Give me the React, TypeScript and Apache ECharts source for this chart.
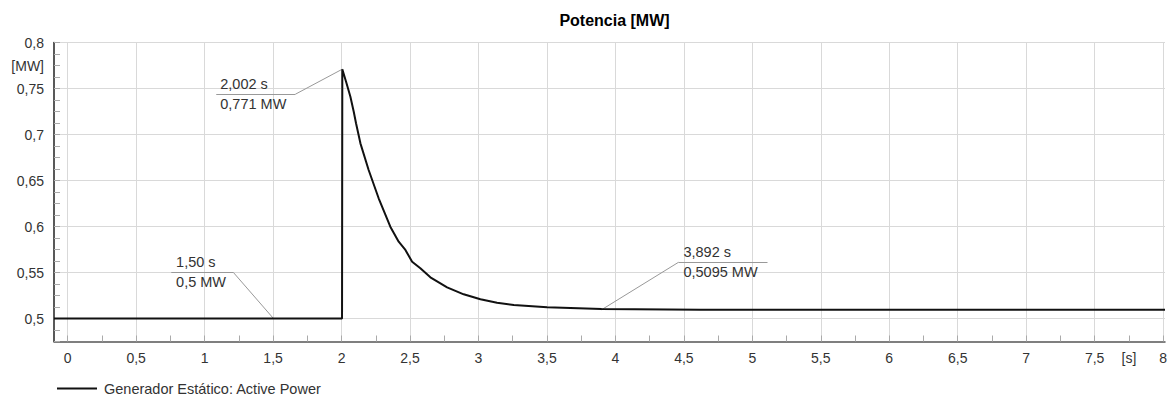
import React, { useEffect, useRef } from "react";
import * as echarts from "echarts";

const seriesName = "Generador Estático: Active Power";
const timeS = [-0.1, 2.0, 2.002, 2.03, 2.061, 2.085, 2.102, 2.134, 2.194, 2.267, 2.352, 2.413, 2.462, 2.511, 2.571, 2.644, 2.766, 2.887, 3.009, 3.13, 3.252, 3.495, 3.892, 4.613, 5.5, 6.5, 8.0];
const powerMW = [0.5, 0.5, 0.771, 0.757, 0.7411, 0.725, 0.7122, 0.6904, 0.6614, 0.6307, 0.5998, 0.5835, 0.5745, 0.5617, 0.5546, 0.5448, 0.5339, 0.5263, 0.5209, 0.5172, 0.5147, 0.5122, 0.5103, 0.5096, 0.5095, 0.5095, 0.5095];

const annotTimes = [1.5, 2.002, 3.892];
const annotValues = [0.5, 0.771, 0.5095];
const annotTop = ["1,50 s", "2,002 s", "3,892 s"];
const annotBottom = ["0,5 MW", "0,771 MW", "0,5095 MW"];
// callout layout: [lineStartT, lineEndT, lineV, elbowT, textT]
const annotLayout = [
  [0.755, 1.207, 0.5502, 1.207, 0.79],
  [1.083, 1.659, 0.7437, 1.659, 1.112],
  [4.453, 5.102, 0.5611, 4.453, 4.489],
];

const FONT = "'Liberation Sans', Arial, sans-serif";
const near = (a: number, b: number) => Math.abs(a - b) < 1e-6;
const fmt = (v: number) => String(Number(v.toFixed(4))).replace(".", ",");

export default function App() {
  const ref = useRef<HTMLDivElement>(null);
  useEffect(() => {
    if (!ref.current) return;
    const chart = echarts.init(ref.current, null, { renderer: "svg" });
    const gTop = 42.5;
    const gBottom = 396 - 341.5;
    const gLeft = 54;
    const gRight = 1170 - 1165;
    const yMin = 0.475, yMax = 0.8;
    const xMin = -0.1, xMax = 8;
    const plotW = 1170 - gLeft - gRight;
    const plotH = 396 - gTop - gBottom;
    const zeroX = gLeft + ((0 - xMin) / (xMax - xMin)) * plotW;
    const halfY = gTop + ((yMax - 0.5) / (yMax - yMin)) * plotH;

    const markLineData: any[] = [];
    const markPointData: any[] = [];
    annotLayout.forEach((l, i) => {
      markLineData.push([{ coord: [l[0], l[2]] }, { coord: [l[1], l[2]] }]);
      markLineData.push([{ coord: [l[3], l[2]] }, { coord: [annotTimes[i], annotValues[i]] }]);
      markPointData.push({ coord: [l[4], l[2]], value: annotTop[i] + "\n" + annotBottom[i] });
    });

    chart.setOption({
      animation: false,
      backgroundColor: "#fff",
      title: {
        text: "Potencia [MW]",
        left: (gLeft + 1170 - gRight) / 2,
        textAlign: "center",
        top: 7,
        textStyle: { fontFamily: FONT, fontSize: 16, fontWeight: "bold", color: "#000" },
      },
      legend: {
        left: 52,
        top: 376,
        icon: "rect",
        itemWidth: 40,
        itemHeight: 2,
        textStyle: { fontFamily: FONT, fontSize: 14.5, color: "#333", padding: [0, 0, 0, 2] },
        data: [seriesName],
      },
      grid: [
        { left: gLeft, right: gRight, top: gTop, bottom: gBottom },
        { left: zeroX, right: gRight, top: gTop, bottom: gBottom },
        { left: gLeft, right: gRight, top: gTop, bottom: 396 - halfY },
      ],
      xAxis: [
        {
          gridIndex: 0, type: "value", min: xMin, max: xMax,
          axisLine: { show: true, onZero: false, lineStyle: { color: "#555", width: 1.5 } },
          axisTick: { show: false }, axisLabel: { show: false }, splitLine: { show: false },
        },
        {
          gridIndex: 1, type: "value", min: 0, max: 8, interval: 0.25,
          axisLine: { show: false, onZero: false },
          axisTick: { show: true, inside: true, length: 6, lineStyle: { color: "#aaa" } },
          axisLabel: {
            show: true, margin: 9, fontFamily: FONT, fontSize: 14, color: "#333",
            formatter: (v: number) => {
              if (near(v, 7.75)) return "[s]";
              if (near(v * 2, Math.round(v * 2))) return fmt(v);
              return "";
            },
          },
          splitLine: { show: true, lineStyle: { color: ["#d9d9d9", "rgba(0,0,0,0)"], width: 1 } },
        },
        { gridIndex: 2, type: "value", min: 0, max: 1, show: false },
      ],
      yAxis: [
        {
          gridIndex: 0, type: "value", min: yMin, max: yMax, interval: 0.0125,
          axisLine: { show: true, onZero: false, lineStyle: { color: "#222", width: 1.5 } },
          axisTick: { show: true, inside: true, length: 6, lineStyle: { color: "#aaa" } },
          axisLabel: {
            show: true, margin: 10, fontFamily: FONT, fontSize: 14, color: "#333",
            formatter: (v: number) => {
              if (near(v, 0.775)) return "[MW]";
              if (near(v * 20, Math.round(v * 20)) && v >= 0.5 - 1e-9) return fmt(v);
              return "";
            },
          },
          splitLine: { show: false },
        },
        { gridIndex: 1, type: "value", min: 0, max: 1, show: false },
        {
          gridIndex: 2, type: "value", min: 0.5, max: 0.8, interval: 0.05,
          axisLine: { show: false, onZero: false }, axisTick: { show: false }, axisLabel: { show: false },
          splitLine: { show: true, lineStyle: { color: "#d9d9d9", width: 1 } },
        },
      ],
      series: [
        {
          name: seriesName,
          type: "line",
          xAxisIndex: 0,
          yAxisIndex: 0,
          data: timeS.map((t, i) => [t, powerMW[i]]),
          showSymbol: false,
          symbol: "none",
          lineStyle: { color: "#111", width: 2 },
          itemStyle: { color: "#111" },
          z: 5,
          markLine: {
            silent: true,
            symbol: "none",
            label: { show: false },
            lineStyle: { color: "#999", width: 1, type: "solid" },
            data: markLineData,
          },
          markPoint: {
            silent: true,
            symbolSize: 0,
            label: {
              show: true, position: "right", distance: 0,
              fontFamily: FONT, fontSize: 14.5, color: "#333", lineHeight: 20,
              formatter: (p: any) => p.value,
            },
            data: markPointData,
          },
        },
      ],
    });
    return () => chart.dispose();
  }, []);
  return <div ref={ref} style={{ position: "absolute", left: 0, top: 0, width: 1170, height: 396 }} />;
}
